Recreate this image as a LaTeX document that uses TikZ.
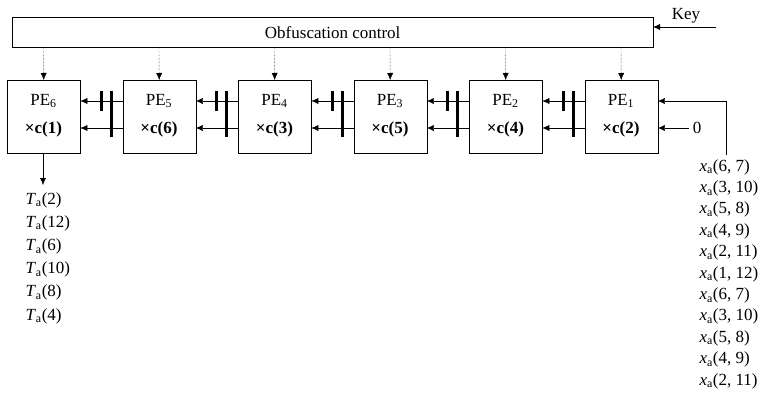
\documentclass[tikz,border=0pt]{standalone}
\usepackage{fontspec}
\setmainfont{Liberation Serif}
\usetikzlibrary{arrows.meta}
\newcommand{\xa}[1]{\textit{x}\textsubscript{a}(#1)}
\newcommand{\Ta}[1]{\textit{T}\textsubscript{a}(#1)}
\begin{document}
\begin{tikzpicture}[x=1pt,y=-1pt,font=\fontsize{17}{20}\selectfont,
  pe/.style={draw,minimum width=73pt,minimum height=73pt,anchor=north west,inner sep=0},
  arr/.style={-{Latex[length=7pt,width=6pt]}},
  bar/.style={line width=3pt}]
\useasboundingbox (0,0) rectangle (776,415);
\node[draw,minimum width=641pt,minimum height=30pt,anchor=north west,inner sep=0] (ctl) at (12,17) {Obfuscation control};
\node (key) at (686,16) {Key};
\coordinate (keyin) at (716,27);
\draw[arr] (keyin) -- (653,27);
\foreach \i/\c [count=\k from 0] in {6/1,5/6,4/3,3/5,2/4,1/2}{
  \node[pe] (pe\i) at (7+115.5*\k,80) {};
  \node at (7+115.5*\k+36.5,101) {PE\textsubscript{\i}};
  \node at (7+115.5*\k+36.5,129) {\textbf{×c(\c)}};
  \draw[arr,densely dotted] (7+115.5*\k+36.5,47) -- (pe\i.north);
}
\foreach \a/\b [count=\k from 0] in {5/6,4/5,3/4,2/3,1/2}{
  \draw[arr] (pe\a.west |- 0,101) -- (pe\b.east |- 0,101);
  \draw[arr] (pe\a.west |- 0,128) -- (pe\b.east |- 0,128);
  \draw[bar] (101+115.5*\k,91) -- (101+115.5*\k,111);
  \draw[bar] (111+115.5*\k,91) -- (111+115.5*\k,137);
}
\coordinate (xin) at (726,155);
\draw[arr] (xin) |- (pe1.east |- 0,101);
\node (zero) at (697,128) {0};
\draw[arr] (zero.west) -- (pe1.east |- 0,128);
\coordinate (tout) at (43,185);
\draw[arr] (pe6.south -| 43,0) -- (tout);
\foreach \t [count=\k from 0] in {2,12,6,10,8,4}
  \node[anchor=west] at (22,200+23.2*\k) {\Ta{\t}};
\foreach \t [count=\k from 0] in {{6, 7},{3, 10},{5, 8},{4, 9},{2, 11},{1, 12},{6, 7},{3, 10},{5, 8},{4, 9},{2, 11}}
  \node[anchor=west] at (696,167+21.4*\k) {\xa{\t}};
\end{tikzpicture}
\end{document}
